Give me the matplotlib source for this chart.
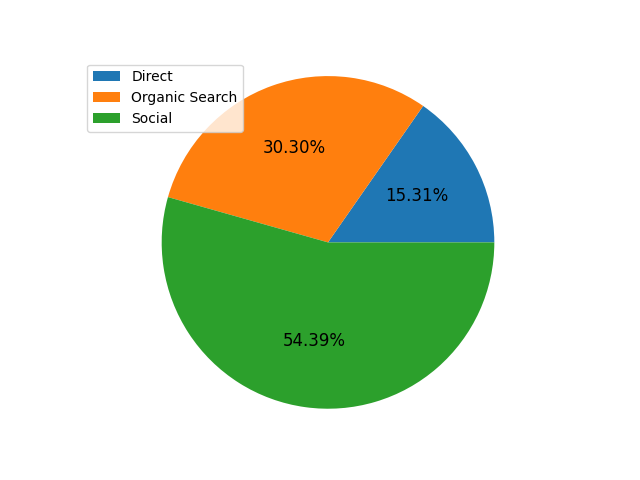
import matplotlib
matplotlib.use("Agg")
import matplotlib.pyplot as plt

labels = ['Direct', 'Organic Search', 'Social']
shares = [15.31, 30.30, 54.39]

fig, ax = plt.subplots(figsize=(6.4, 4.8), dpi=100)
wedges, texts, autotexts = ax.pie(shares, autopct='%1.2f%%', radius=0.99,
                                  textprops={'fontsize': 12})
ax.axis('equal')
ax.set_ylim(-1.1, 1.1)
ax.legend(wedges, labels, loc='upper left')
fig.savefig('out.png')
